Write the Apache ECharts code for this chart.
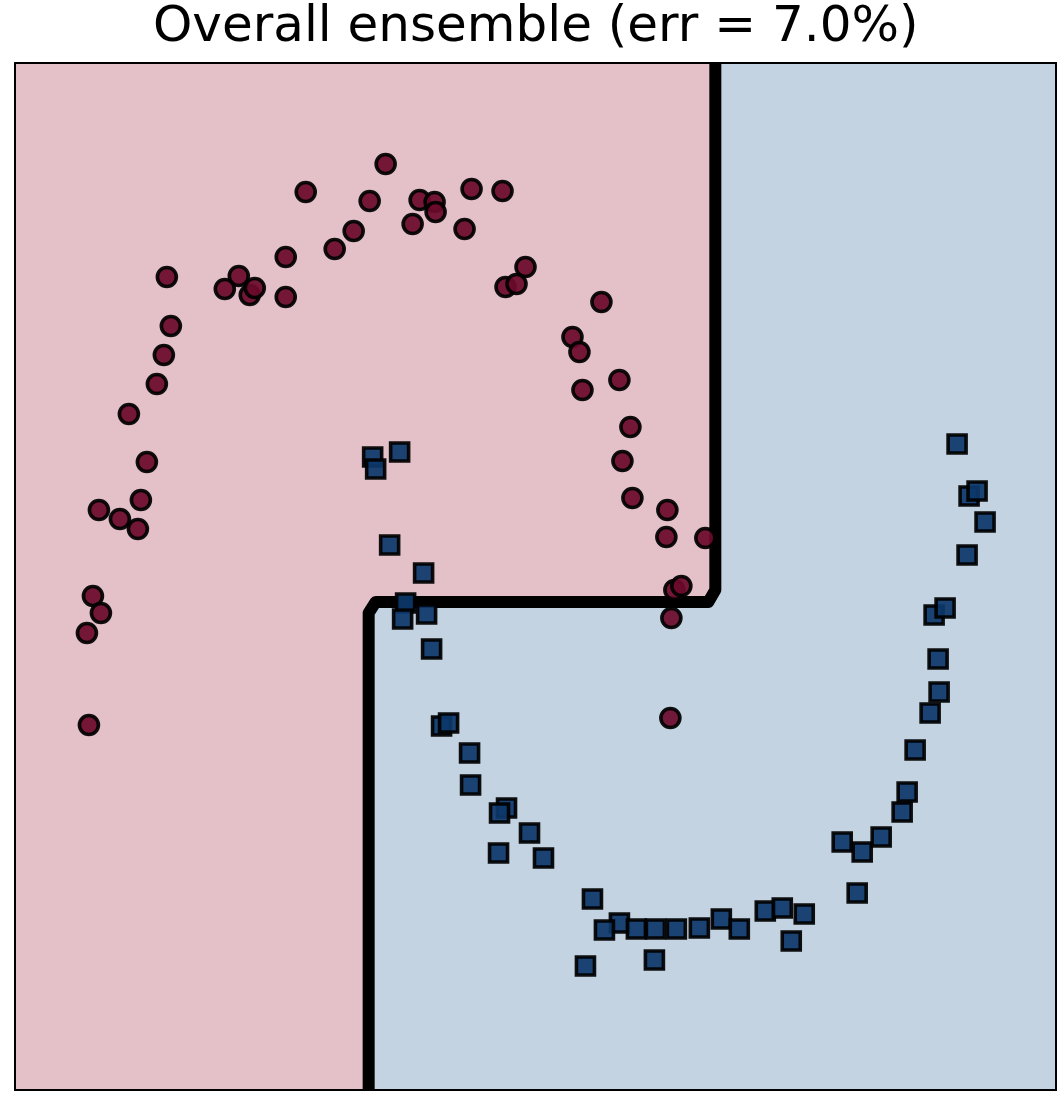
<!DOCTYPE html>
<html>
<head>
<meta charset="utf-8">
<style>
  html, body { margin: 0; padding: 0; background: #ffffff; }
  #chart { width: 1057px; height: 1106px; }
</style>
<script src="https://cdn.jsdelivr.net/npm/echarts@6/dist/echarts.min.js"></script>
</head>
<body>
<div id="chart"></div>
<script>
// Data (units: the plot's own x / y scale)
const xRange = [15, 1057];
const yRange = [63, 1090];

const redX = [386, 306, 472, 503, 370, 420, 435, 436, 413, 465, 354, 335, 286, 526, 167, 239, 225, 250, 255, 286, 506, 517, 602, 171, 573, 580, 164, 583, 620, 157, 129, 631, 147, 623, 141, 633, 99, 120, 138, 668, 667, 706, 93, 101, 87, 675, 682, 672, 89, 671];
const redY = [164, 192, 189, 191, 201, 200, 202, 212, 224, 229, 231, 249, 257, 267, 277, 276, 289, 295, 288, 297, 287, 284, 302, 326, 337, 352, 355, 390, 380, 384, 414, 427, 462, 461, 500, 498, 510, 519, 529, 510, 537, 538, 596, 613, 633, 590, 586, 618, 725, 718];

const blueX = [373, 376, 400, 390, 424, 406, 403, 427, 432, 442, 449, 470, 471, 507, 500, 530, 499, 544, 593, 620, 605, 637, 656, 677, 700, 722, 740, 586, 655, 766, 783, 805, 792, 858, 843, 863, 882, 903, 908, 916, 931, 940, 939, 935, 946, 968, 986, 970, 978, 958];
const blueY = [457, 469, 452, 545, 573, 603, 619, 614, 649, 726, 723, 753, 785, 808, 813, 833, 853, 858, 899, 923, 930, 929, 929, 929, 928, 919, 929, 966, 960, 911, 908, 914, 941, 893, 842, 852, 837, 812, 792, 750, 713, 692, 659, 615, 608, 555, 522, 496, 491, 444];

// decision boundary (ensemble)
const boundaryX = [716, 716, 709, 376, 369, 369];
const boundaryY = [63, 590, 602, 602, 613, 1090];

const titleText = 'Overall ensemble (err = 7.0%)';

const redPts = redX.map((x, i) => [x, redY[i]]);
const bluePts = blueX.map((x, i) => [x, blueY[i]]);
const boundaryPts = boundaryX.map((x, i) => [x, boundaryY[i]]);

const chart = echarts.init(document.getElementById('chart'), null, { renderer: 'canvas' });

const option = {
  animation: false,
  backgroundColor: '#ffffff',
  title: {
    text: titleText,
    left: 148,
    top: -2,
    textStyle: {
      fontFamily: 'DejaVu Sans',
      fontSize: 50,
      fontWeight: 'normal',
      color: '#000000'
    }
  },
  grid: {
    left: 15, right: 1, top: 63, bottom: 16,
    show: true,
    backgroundColor: 'transparent',
    borderColor: '#000000',
    borderWidth: 2,
    z: 10
  },
  xAxis: {
    type: 'value', min: xRange[0], max: xRange[1],
    show: false
  },
  yAxis: {
    type: 'value', min: yRange[0], max: yRange[1], inverse: true,
    show: false
  },
  series: [
    {
      type: 'custom',
      z: 0,
      silent: true,
      clip: true,
      data: [0],
      renderItem: function (params, api) {
        const tl = api.coord([xRange[0], yRange[0]]);
        const br = api.coord([xRange[1], yRange[1]]);
        const poly = [api.coord([xRange[0], yRange[0]])];
        for (let i = 0; i < boundaryX.length; i++) {
          poly.push(api.coord([boundaryX[i], boundaryY[i]]));
        }
        poly.push(api.coord([xRange[0], yRange[1]]));
        return {
          type: 'group',
          children: [
            { type: 'rect', shape: { x: tl[0], y: tl[1], width: br[0] - tl[0], height: br[1] - tl[1] },
              style: { fill: '#c3d3e2' } },
            { type: 'polygon', shape: { points: poly }, style: { fill: '#e4c1c8' } }
          ]
        };
      }
    },
    {
      type: 'line',
      z: 3,
      data: boundaryPts,
      symbol: 'none',
      silent: true,
      clip: true,
      lineStyle: { color: '#000000', width: 12, join: 'round', cap: 'butt' }
    },
    {
      type: 'scatter',
      z: 5,
      data: redPts,
      symbol: 'circle',
      symbolSize: 19,
      itemStyle: { color: '#6c0a2b', borderColor: '#000000', borderWidth: 3.6, opacity: 0.93 }
    },
    {
      type: 'scatter',
      z: 5,
      data: bluePts,
      symbol: 'rect',
      symbolSize: 18,
      itemStyle: { color: '#0d386a', borderColor: '#000000', borderWidth: 3.6, opacity: 0.93 }
    }
  ]
};

chart.setOption(option);
</script>
</body>
</html>
